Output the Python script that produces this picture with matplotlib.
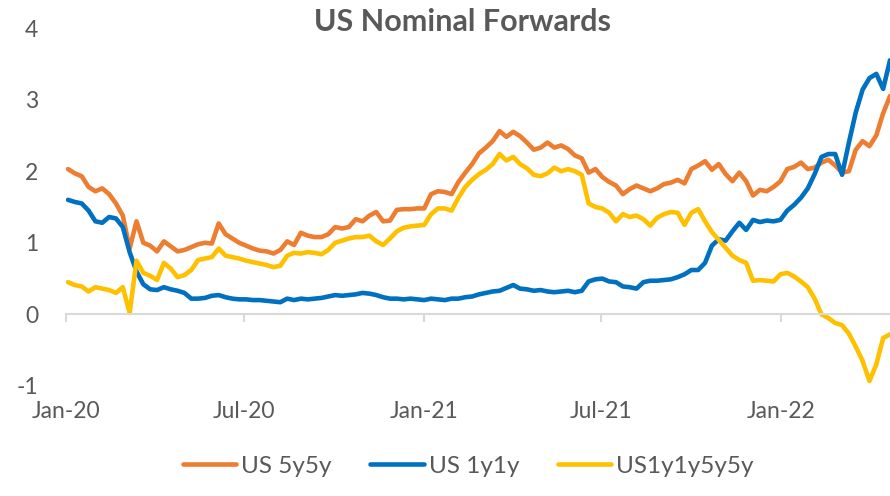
import matplotlib
matplotlib.use("Agg")
import matplotlib.pyplot as plt
import matplotlib.dates as mdates
import pandas as pd

# weekly readings, Jan-2020 .. Apr-2022
dates = pd.date_range("2020-01-03", periods=121, freq="W-FRI")

us_5y5y = [
    2.03, 1.97, 1.93, 1.78, 1.72, 1.76, 1.68, 1.55, 1.38, 0.92,
    1.30, 1.00, 0.96, 0.88, 1.02, 0.95, 0.88, 0.90, 0.94, 0.98,
    1.00, 0.99, 1.27, 1.12, 1.06, 1.00, 0.96, 0.92, 0.89, 0.88,
    0.85, 0.90, 1.02, 0.97, 1.14, 1.10, 1.08, 1.08, 1.12, 1.22,
    1.20, 1.22, 1.33, 1.30, 1.38, 1.43, 1.30, 1.31, 1.46, 1.47,
    1.47, 1.48, 1.48, 1.68, 1.72, 1.71, 1.68, 1.85, 1.98, 2.10,
    2.25, 2.33, 2.42, 2.56, 2.48, 2.55, 2.49, 2.40, 2.30, 2.33,
    2.40, 2.33, 2.36, 2.31, 2.22, 2.18, 1.98, 2.03, 1.92, 1.85,
    1.80, 1.68, 1.75, 1.80, 1.76, 1.72, 1.76, 1.82, 1.84, 1.88,
    1.83, 2.03, 2.08, 2.14, 2.02, 2.10, 1.96, 1.86, 1.98, 1.86,
    1.66, 1.74, 1.72, 1.78, 1.86, 2.03, 2.06, 2.12, 2.03, 2.05,
    2.12, 2.16, 2.08, 1.98, 2.00, 2.30, 2.42, 2.35, 2.50, 2.81,
    3.05,
]

us_1y1y = [
    1.60, 1.57, 1.55, 1.45, 1.30, 1.28, 1.36, 1.34, 1.22, 0.87,
    0.60, 0.42, 0.35, 0.34, 0.38, 0.35, 0.33, 0.30, 0.22, 0.22,
    0.23, 0.26, 0.27, 0.24, 0.22, 0.21, 0.21, 0.20, 0.20, 0.19,
    0.18, 0.17, 0.22, 0.20, 0.22, 0.21, 0.22, 0.23, 0.25, 0.27,
    0.26, 0.27, 0.28, 0.30, 0.29, 0.27, 0.24, 0.22, 0.22, 0.21,
    0.22, 0.21, 0.20, 0.22, 0.21, 0.20, 0.22, 0.22, 0.24, 0.25,
    0.28, 0.30, 0.32, 0.33, 0.37, 0.41, 0.36, 0.35, 0.33, 0.34,
    0.32, 0.31, 0.32, 0.33, 0.31, 0.33, 0.46, 0.49, 0.50, 0.46,
    0.45, 0.39, 0.38, 0.36, 0.45, 0.47, 0.47, 0.48, 0.49, 0.52,
    0.56, 0.62, 0.62, 0.72, 0.96, 1.05, 1.03, 1.16, 1.28, 1.18,
    1.32, 1.29, 1.31, 1.30, 1.32, 1.45, 1.53, 1.63, 1.76, 1.96,
    2.20, 2.24, 2.24, 1.95, 2.40, 2.82, 3.14, 3.30, 3.36, 3.15,
    3.55,
]

us_1y1y5y5y = [
    0.45, 0.41, 0.39, 0.32, 0.38, 0.36, 0.34, 0.30, 0.38, 0.02,
    0.75, 0.58, 0.54, 0.48, 0.72, 0.64, 0.52, 0.55, 0.62, 0.76,
    0.78, 0.80, 0.92, 0.82, 0.80, 0.78, 0.75, 0.73, 0.71, 0.69,
    0.66, 0.68, 0.82, 0.86, 0.85, 0.87, 0.86, 0.84, 0.90, 1.00,
    1.03, 1.06, 1.08, 1.08, 1.10, 1.02, 0.97, 1.06, 1.16, 1.21,
    1.23, 1.24, 1.25, 1.40, 1.48, 1.48, 1.45, 1.63, 1.78, 1.88,
    1.96, 2.02, 2.10, 2.24, 2.15, 2.20, 2.10, 2.04, 1.95, 1.93,
    1.97, 2.05, 2.00, 2.03, 2.00, 1.95, 1.55, 1.50, 1.48, 1.42,
    1.30, 1.40, 1.36, 1.38, 1.33, 1.24, 1.35, 1.40, 1.43, 1.42,
    1.25, 1.42, 1.47, 1.30, 1.15, 1.04, 0.93, 0.82, 0.76, 0.72,
    0.47, 0.48, 0.47, 0.46, 0.56, 0.58, 0.53, 0.46, 0.38, 0.22,
    0.00, -0.05, -0.12, -0.15, -0.27, -0.45, -0.65, -0.93, -0.70, -0.33,
    -0.28,
]

series = [
    ("US 5y5y", us_5y5y, "#ED7D31"),
    ("US 1y1y", us_1y1y, "#0070C0"),
    ("US1y1y5y5y", us_1y1y5y5y, "#FFC000"),
]

plt.rcParams["font.family"] = ["Lato", "DejaVu Sans"]
plt.rcParams["axes.unicode_minus"] = False
grey = "#595959"

fig = plt.figure(figsize=(8.9, 4.96), dpi=100)
ax = fig.add_axes([0.0742, 0.2218, 0.9258, 0.7217])

for name, vals, col in series:
    ax.plot(dates, vals, color=col, lw=3.3, label=name, solid_capstyle="round")

ax.set_ylim(-1, 4)
ax.set_xlim(pd.Timestamp("2020-01-01"), dates[-1])
ax.set_yticks([-1, 0, 1, 2, 3, 4])
ax.tick_params(axis="y", length=0, pad=20, labelsize=16.5, labelcolor=grey)

for s in ["top", "right", "left"]:
    ax.spines[s].set_visible(False)
ax.spines["bottom"].set_position(("data", 0))
ax.spines["bottom"].set_color("#D9D9D9")
ax.spines["bottom"].set_linewidth(1.5)

loc = mdates.MonthLocator(bymonth=[1, 7])
fmt = mdates.DateFormatter("%b-%y")
ax.xaxis.set_major_locator(loc)
ax.tick_params(axis="x", direction="out", length=6, width=1.5,
               color="#D9D9D9", labelbottom=False)

sec = ax.secondary_xaxis("bottom")
sec.xaxis.set_major_locator(loc)
sec.xaxis.set_major_formatter(fmt)
sec.spines["bottom"].set_visible(False)
sec.tick_params(length=0, pad=11, labelsize=16.5, labelcolor=grey)

fig.text(0.52, 0.955, "US Nominal Forwards", ha="center", va="center",
         fontsize=22, fontweight="bold", color=grey)

fig.legend(loc="center", bbox_to_anchor=(0.526, 0.06), ncol=3, frameon=False,
           fontsize=17.5, labelcolor=grey, handlelength=2.2, handletextpad=0.2,
           columnspacing=1.6)

fig.savefig("out.png", dpi=100)
